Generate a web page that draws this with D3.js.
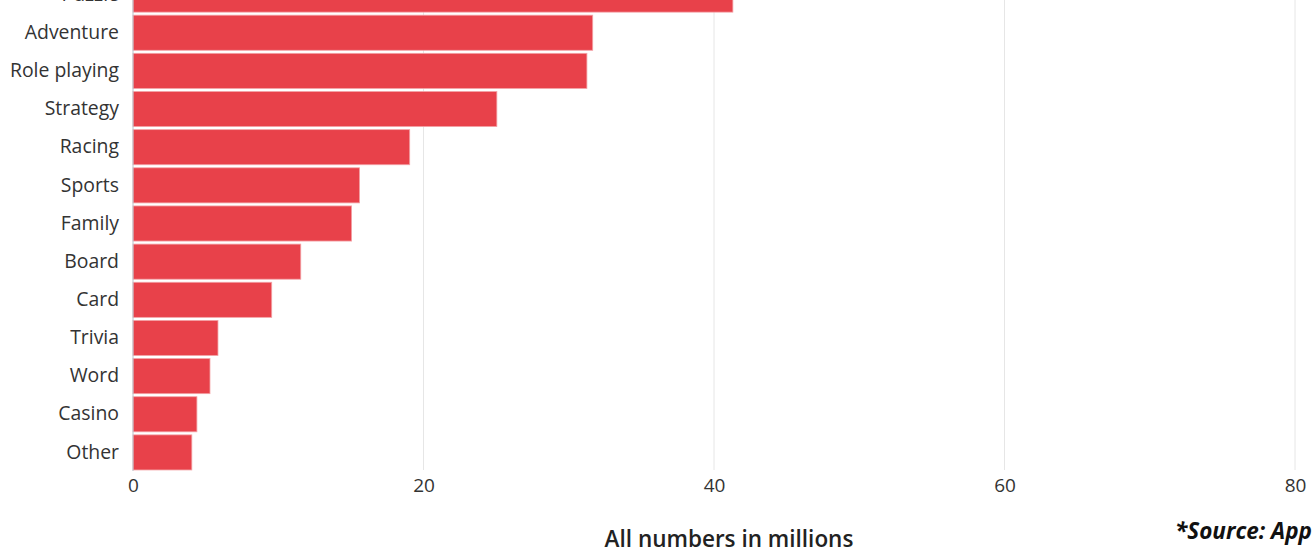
<!DOCTYPE html>
<html><head><meta charset="utf-8">
<script src="https://cdn.jsdelivr.net/npm/d3@7"></script>
<style>html,body{margin:0;padding:0;background:#fff;overflow:hidden}</style>
</head><body>
<svg id="chart" width="1315" height="554"></svg>
<script>
const categories = ["Puzzle","Adventure","Role playing","Strategy","Racing","Sports","Family","Board","Card","Trivia","Word","Casino","Other"];
const values = [41.3, 31.65, 31.25, 25.05, 19.05, 15.6, 15.05, 11.55, 9.55, 5.85, 5.3, 4.4, 4.05];
const xTicks = [0, 20, 40, 60, 80];
const axisTitle = "All numbers in millions";
const sourceText = "*Source: App Annie";

const svg = d3.select("#chart");
const font = "'Open Sans', 'Noto Sans', sans-serif";
const x = d3.scaleLinear().domain([0, 80]).range([133, 1295]);
const y = d3.scaleBand().domain(categories).range([-24.5, 471.5]).paddingInner(0.08).paddingOuter(0.04);

// gridlines
svg.append("g").selectAll("line").data(xTicks.filter(d => d > 0)).join("line")
  .attr("x1", d => x(d)).attr("x2", d => x(d))
  .attr("y1", 0).attr("y2", 470)
  .attr("stroke", "#e6e6e6").attr("stroke-width", 1);

// bars
svg.append("g").selectAll("rect").data(categories).join("rect")
  .attr("x", x(0)).attr("y", d => y(d))
  .attr("width", (d, i) => x(values[i]) - x(0))
  .attr("height", y.bandwidth())
  .attr("fill", "#e8414a")
  .attr("stroke", "#f3a3a7").attr("stroke-width", 0.8);

// baseline
svg.append("line").attr("x1", x(0)).attr("x2", x(0)).attr("y1", 0).attr("y2", 471)
  .attr("stroke", "#b9c3cc").attr("stroke-width", 1);

// y labels
const yAxis = svg.append("g").attr("transform", `translate(${x(0)},0)`)
  .call(d3.axisLeft(y).tickSize(0).tickPadding(14));
yAxis.select(".domain").remove();
yAxis.selectAll("text").attr("font-family", font).attr("font-size", 19.4).attr("fill", "#333");

// x axis labels
const xAxis = svg.append("g").attr("transform", "translate(0,471)")
  .call(d3.axisBottom(x).tickValues(xTicks).tickSize(0).tickPadding(8).tickFormat(d3.format("d")));
xAxis.select(".domain").remove();
xAxis.selectAll("text").attr("font-family", font).attr("font-size", 19).attr("fill", "#333");

svg.append("text").attr("x", 729).attr("y", 547).attr("text-anchor", "middle")
  .attr("font-family", font).attr("font-size", 22.5).attr("font-weight", 600).attr("fill", "#222")
  .text(axisTitle);

svg.append("text").attr("x", 1175).attr("y", 539)
  .attr("font-family", font).attr("font-size", 22.5).attr("font-weight", 700).attr("font-style", "italic").attr("fill", "#111")
  .text(sourceText);
</script>
</body></html>
